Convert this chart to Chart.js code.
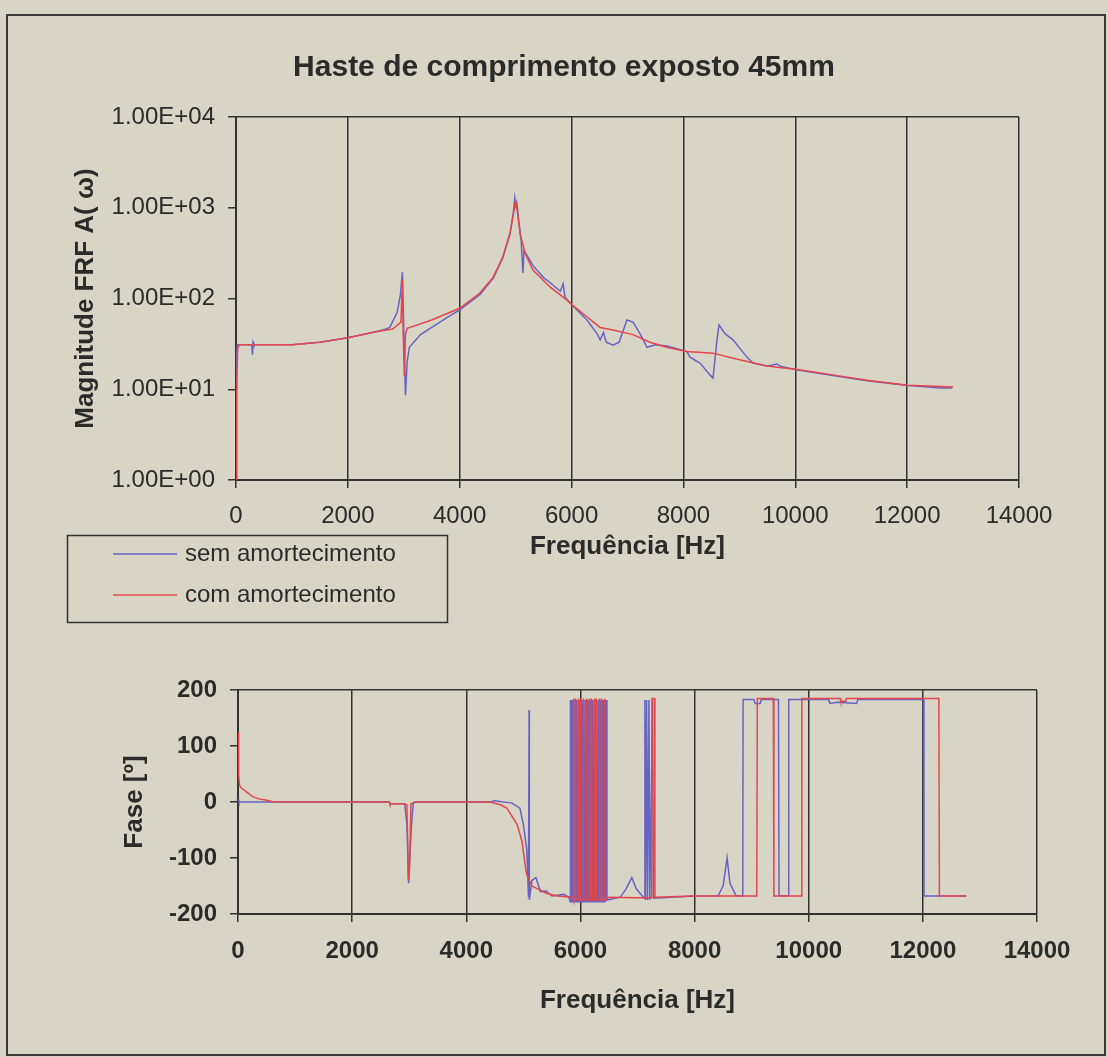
<!DOCTYPE html>
<html>
<head>
<meta charset="utf-8">
<title>Haste de comprimento exposto 45mm</title>
<script src="https://cdn.jsdelivr.net/npm/chart.js@4.4.1/dist/chart.umd.min.js"></script>
<style>
  html, body { margin: 0; padding: 0; background: #d8d5c6; }
  #page { position: relative; width: 1108px; height: 1057px; background: #d8d5c6; overflow: hidden; }
  #frame { position: absolute; left: 6px; top: 14px; width: 1096px; height: 1038px; border: 2px solid #3b3b3b; }
  canvas { position: absolute; left: 0; }
  #magChart { top: 0; }
  #phaseChart { top: 640px; }
</style>
</head>
<body>
<div id="page">
  <div id="frame"></div>
  <canvas id="magChart" width="1108" height="640"></canvas>
  <canvas id="phaseChart" width="1108" height="417"></canvas>
</div>
<script>
const FONT = "'Liberation Sans', Arial, sans-serif";
const INK = "#2b2b2b";
const GRID = "#333333";
Chart.defaults.font.family = FONT;
Chart.defaults.color = INK;

const chartTitle = "Haste de comprimento exposto 45mm";
const seriesNames = ["sem amortecimento", "com amortecimento"];
const seriesColors = ["#6763c2", "#e2474c"];
const freqTicks = [0, 2000, 4000, 6000, 8000, 10000, 12000, 14000];
const magTicks = [1, 10, 100, 1000, 10000];
const magTickLabels = ["1.00E+00", "1.00E+01", "1.00E+02", "1.00E+03", "1.00E+04"];
const phaseTicks = [-200, -100, 0, 100, 200];

// magnitude - sem amortecimento
const magFreqSem = [0, 10, 25, 280, 295, 305, 320, 1000, 1500, 2000, 2500, 2630, 2750, 2880, 2940, 2975, 2995, 3030, 3060, 3100,
  3300, 3500, 3800, 4000, 4360, 4600, 4770, 4900, 4960, 4985, 5000, 5020, 5060, 5100, 5130, 5150, 5310, 5500, 5614, 5800,
  5850, 5880, 6008, 6276, 6455, 6510, 6570, 6620, 6741, 6850, 6990, 7098, 7223, 7348, 7500, 7706, 8064, 8117, 8296, 8475,
  8529, 8600, 8636, 8743, 8886, 9136, 9243, 9490, 9600, 9673, 9750, 10040, 10670, 11280, 12015, 12600, 12800];
const magSem = [10, 25, 31, 31, 24, 33, 31, 31, 33, 37, 43, 45, 48, 70, 110, 195, 60, 8.6, 20, 29,
  40, 48, 63, 75, 110, 168, 280, 520, 900, 1290, 1050, 1150, 700, 420, 191, 340, 230, 170, 150, 120,
  146, 104, 85, 58, 41, 35, 42, 33, 30.6, 33, 58, 55, 41, 29, 31, 30, 26, 22.6, 19.4, 14.4,
  13.3, 35, 51, 41, 35, 22.6, 19.4, 18, 18.5, 19, 17.8, 16.3, 14.2, 12.4, 11, 10.3, 10.3];

// magnitude - com amortecimento
const magFreqCom = [0, 15, 30, 60, 400, 1000, 1500, 2000, 2500, 2800, 2950, 2975, 2990, 3010, 3030, 3060, 3500, 4000, 4360, 4600,
  4770, 4900, 4960, 4990, 5006, 5030, 5078, 5167, 5310, 5614, 5918, 6008, 6276, 6508, 6741, 7100, 7400, 7700, 8060, 8530,
  8890, 9490, 10040, 10670, 11280, 12015, 12820];
const magCom = [0.7, 12, 28, 31, 31, 31, 33, 37, 43, 46, 55, 160, 40, 14, 40, 47, 58, 78, 115, 172,
  286, 526, 850, 1120, 1180, 900, 526, 317, 206, 134, 96, 85, 63, 48, 45, 40, 33, 29, 26, 25,
  22, 18, 16.5, 14.4, 12.6, 11.1, 10.6];

// fase - sem amortecimento
const phaseFreqSem = [0, 15, 2650, 2660, 2920, 2960, 2990, 3010, 3040, 3070, 3100, 4420, 4500, 4800, 4940, 5000, 5060, 5090, 5100, 5105,
  5150, 5220, 5300, 5400, 5500, 5710, 5800,
  5818, 5820, 5830, 5838, 5840, 5850, 5868, 5870, 5880, 5898, 5900, 5910, 5933, 5935, 5945, 5958, 5960, 5970,
  5988, 5990, 6000, 6013, 6015, 6025, 6038, 6040, 6050, 6058, 6060, 6070, 6083, 6085, 6093, 6098, 6100, 6110,
  6123, 6125, 6135, 6148, 6150, 6160, 6168, 6170, 6180, 6188, 6190, 6200, 6213, 6215, 6225, 6238, 6240, 6250,
  6258, 6260, 6270, 6283, 6285, 6295, 6308, 6310, 6320, 6333, 6335, 6345, 6358, 6360, 6370, 6383, 6385, 6395,
  6408, 6410, 6420, 6428, 6430, 6440, 6448, 6450, 6465,
  6700, 6800, 6900, 6980, 7100, 7125, 7130, 7140, 7160, 7175, 7200, 7215, 7265,
  7280, 8000, 8410, 8500, 8570, 8620, 8730, 8845, 8850, 9040, 9060, 9150, 9170, 9470, 9480, 9640, 9650, 10350, 10370, 10500,
  10840, 10860, 12010, 12020, 12760];
const phaseSem = [5, 0, 0, -3, -3, -40, -145, -100, -40, -3, 0, 0, 2, -2, -11, -40, -85, -170, 164, -175,
  -140, -135, -160, -159, -168, -165, -170,
  -178, 182, -178, -178, 182, -178, -178, 182, -178, -178, 182, -178, -178, 182, -178, -178, 182, -178,
  -178, 182, -178, -178, 182, -178, -178, 182, -178, -178, 182, -178, -178, 182, -178, -178, 182, -178,
  -178, 182, -178, -178, 182, -178, -178, 182, -178, -178, 182, -178, -178, 182, -178, -178, 182, -178,
  -178, 182, -178, -178, 182, -178, -178, 182, -178, -178, 182, -178, -178, 182, -178, -178, 182, -178,
  -178, 182, -178, -178, 182, -178, -178, 182, -175,
  -170, -155, -135, -155, -170, -172, 182, -175, 182, -175, 182, -175, 182,
  -172, -168, -168, -150, -100, -145, -168, -168, 183, 183, 176, 176, 183, 183, -168, -168, 183, 183, 176, 178,
  176, 183, 183, -168, -168];

// fase - com amortecimento
const phaseFreqCom = [0, 8, 15, 25, 60, 150, 250, 350, 500, 600, 700, 2650, 2660, 2900, 2960, 2985, 3005, 3030, 3100, 4415,
  4600, 4710, 4890, 4975, 5030, 5060, 5150, 5250, 5400, 5600, 5850,
  5873, 5875, 5885, 5908, 5910, 5920, 5958, 5960, 5970, 5993, 5995, 6005, 6048, 6050, 6060, 6103, 6105, 6115,
  6158, 6160, 6170, 6193, 6195, 6205, 6248, 6250, 6260, 6273, 6275, 6285, 6328, 6330, 6340, 6363, 6365, 6375,
  6418, 6420, 6430,
  6500, 7000, 7250, 7255, 7300, 7305, 8000, 9090, 9100, 9380, 9390,
  9870, 9880, 10550, 10560, 10650, 10660, 12280, 12290, 12760];
const phaseCom = [125, 90, 50, 30, 25, 18, 10, 6, 3, 1, 0, 0, -3, -3, -5, -140, -120, -3, 0, 0,
  -5, -11, -40, -70, -112, -130, -150, -155, -163, -168, -170,
  -172, 185, -175, -175, 185, -175, -175, 185, -175, -175, 185, -175, -175, 185, -175, -175, 185, -175,
  -175, 185, -175, -175, 185, -175, -175, 185, -175, -175, 185, -175, -175, 185, -175, -175, 185, -175,
  -175, 185, -175,
  -170, -171, -171, 185, 185, -170, -168, -168, 185, 185, -168,
  -168, 185, 185, 180, 180, 185, 185, -168, -168];

const pts = (xs, ys) => xs.map((x, i) => ({ x: x, y: ys[i] }));

function makeDatasets(freqSem, valSem, freqCom, valCom) {
  return [
    { label: seriesNames[0], data: pts(freqSem, valSem), borderColor: seriesColors[0], borderWidth: 1.5, pointRadius: 0, tension: 0, order: 1 },
    { label: seriesNames[1], data: pts(freqCom, valCom), borderColor: seriesColors[1], borderWidth: 1.5, pointRadius: 0, tension: 0, order: 0 }
  ];
}

function freqAxis(tickFont, tickPad, height) {
  return {
    type: "linear", min: 0, max: 14000,
    afterBuildTicks: a => { a.ticks = freqTicks.map(v => ({ value: v })); },
    ticks: { font: tickFont, color: INK, padding: tickPad, maxRotation: 0, autoSkip: false, callback: v => String(v) },
    grid: { color: GRID, lineWidth: 1.5, tickLength: 8, tickColor: GRID, tickWidth: 1.5 },
    border: { color: GRID, width: 2 },
    title: { display: true, text: "Frequência [Hz]", font: { size: 26, weight: "bold" }, color: INK, padding: 0 },
    afterFit: a => { a.height = height; }
  };
}

const magDecor = {
  id: "magDecor",
  afterDraw(chart) {
    const ctx = chart.ctx;
    ctx.save();
    ctx.fillStyle = INK;
    ctx.font = "bold 30px " + FONT;
    ctx.textAlign = "center";
    ctx.textBaseline = "middle";
    ctx.fillText(chartTitle, 564, 68);
    // legend box
    ctx.strokeStyle = GRID;
    ctx.lineWidth = 1.5;
    ctx.strokeRect(67.5, 535.5, 380, 87);
    ctx.font = "24px " + FONT;
    ctx.textAlign = "left";
    chart.data.datasets.forEach((ds, i) => {
      const y = 554 + i * 41;
      ctx.strokeStyle = ds.borderColor;
      ctx.lineWidth = 1.5;
      ctx.beginPath();
      ctx.moveTo(113, y);
      ctx.lineTo(177, y);
      ctx.stroke();
      ctx.fillText(ds.label, 185, y);
    });
    ctx.restore();
  }
};

new Chart(document.getElementById("magChart"), {
  type: "line",
  data: { datasets: makeDatasets(magFreqSem, magSem, magFreqCom, magCom) },
  options: {
    responsive: false,
    animation: false,
    devicePixelRatio: 1,
    layout: { padding: { left: 60, right: 89, top: 117, bottom: 78 } },
    plugins: { legend: { display: false }, title: { display: false }, tooltip: { enabled: false } },
    scales: {
      x: freqAxis({ size: 24 }, 14, 82),
      y: {
        type: "logarithmic", min: 1, max: 10000,
        afterBuildTicks: a => { a.ticks = magTicks.map(v => ({ value: v })); },
        ticks: { callback: (v, i) => magTickLabels[i], font: { size: 24 }, color: INK, padding: 13, autoSkip: false },
        grid: {
          color: c => (c.tick && c.tick.value === 10000 ? GRID : "rgba(0,0,0,0)"),
          lineWidth: 1.5, tickColor: GRID, tickLength: 8, tickWidth: 1.5
        },
        border: { color: GRID, width: 2 },
        title: { display: true, text: "Magnitude FRF A( ω)", font: { size: 26, weight: "bold" }, color: INK, padding: { top: 10, bottom: 0 } },
        afterFit: a => { a.width = 176; }
      }
    }
  },
  plugins: [magDecor]
});

new Chart(document.getElementById("phaseChart"), {
  type: "line",
  data: { datasets: makeDatasets(phaseFreqSem, phaseSem, phaseFreqCom, phaseCom) },
  options: {
    responsive: false,
    animation: false,
    devicePixelRatio: 1,
    layout: { padding: { left: 100, right: 71, top: 50, bottom: 41 } },
    plugins: { legend: { display: false }, title: { display: false }, tooltip: { enabled: false } },
    scales: {
      x: freqAxis({ size: 24, weight: "bold" }, 15, 102),
      y: {
        type: "linear", min: -200, max: 200,
        afterBuildTicks: a => { a.ticks = phaseTicks.map(v => ({ value: v })); },
        ticks: { font: { size: 24, weight: "bold" }, color: INK, padding: 13, autoSkip: false, callback: v => String(v) },
        grid: {
          color: c => (c.tick && c.tick.value === 200 ? GRID : "rgba(0,0,0,0)"),
          lineWidth: 1.5, tickColor: GRID, tickLength: 8, tickWidth: 1.5
        },
        border: { color: GRID, width: 2 },
        title: { display: true, text: "Fase [º]", font: { size: 26, weight: "bold" }, color: INK, padding: { top: 19, bottom: 0 } },
        afterFit: a => { a.width = 138; }
      }
    }
  }
});
</script>
</body>
</html>
